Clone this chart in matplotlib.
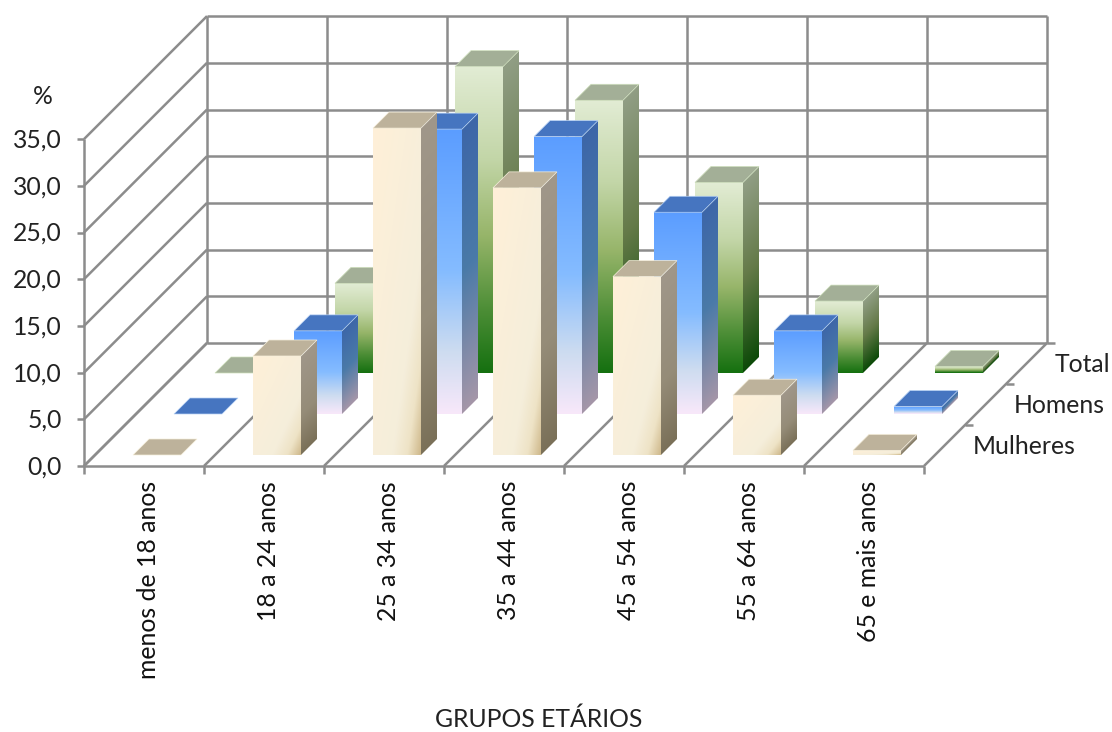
import matplotlib
matplotlib.use('Agg')
import matplotlib.pyplot as plt
import numpy as np
from matplotlib.colors import to_rgb
from matplotlib.patches import Polygon

plt.rcParams['font.family'] = ['Lato', 'DejaVu Sans']

# data
grupos = ['menos de 18 anos', '18 a 24 anos', '25 a 34 anos', '35 a 44 anos',
          '45 a 54 anos', '55 a 64 anos', '65 e mais anos']
series = ['Mulheres', 'Homens', 'Total']
mulheres = [0.0, 10.6, 35.0, 28.6, 19.1, 6.4, 0.5]
homens = [0.0, 8.9, 30.5, 29.7, 21.6, 8.9, 0.8]
total = [0.0, 9.6, 32.8, 29.2, 20.4, 7.7, 0.7]
valores = [mulheres, homens, total]
eixo_y = [0, 5, 10, 15, 20, 25, 30, 35]

# projection of the chart box to pixels
X0, Y0 = 84, 466
COL_W = 120
DEPTH = 123
PX_UNIT = 46.7 / 5
ROW = DEPTH / 3
BAR_W = 48 / COL_W
BAR_D = 16 / ROW
BAR_START = 11 / ROW
FS = 17.8


def proj(cat, val, row):
    d = row * ROW
    return X0 + cat * COL_W + d, Y0 - val * PX_UNIT - d


fig = plt.figure(figsize=(11.12, 7.32), dpi=100)
ax = fig.add_axes([0, 0, 1, 1])
ax.set_xlim(0, 1112)
ax.set_ylim(732, 0)
ax.axis('off')

GRID = '#8c8c8c'
n = len(grupos)


def line(p, q, z=1):
    ax.plot([p[0], q[0]], [p[1], q[1]], color=GRID, lw=1.8, zorder=z, solid_capstyle='butt')


top = eixo_y[-1]
for v in eixo_y:
    # left wall + back wall
    line(proj(0, v, 0), proj(0, v, 3))
    line(proj(0, v, 3), proj(n, v, 3))
    line((X0 - 7, proj(0, v, 0)[1]), proj(0, v, 0))
line(proj(0, 0, 0), proj(0, top, 0))
for c in range(n + 1):
    line(proj(c, 0, 3), proj(c, top, 3))
    line(proj(c, 0, 0), proj(c, 0, 3))
    line(proj(c, 0, 0), (proj(c, 0, 0)[0], Y0 + 8))
line(proj(0, 0, 0), proj(n, 0, 0))
for r in (1, 2, 3):
    p = proj(n, 0, r)
    line(p, (p[0] + 8, p[1]))

# colours of the faces
estilo = {
    'Mulheres': dict(top='#bdb29b', edge='#f6efdc',
                     front=[(0, '#fff0d8'), (0.7, '#f5eedb'), (0.86, '#eee3c6'), (1, '#cfb98c')],
                     side=[(0, '#a0978a'), (0.6, '#958c78'), (1, '#7a7058')], diagonal=True),
    'Homens': dict(top='#4675c0', edge='#b9d3f5',
                   front=[(0, '#5b9dff'), (0.5, '#85bcff'), (0.78, '#cddcf0'), (1, '#f8e8fa')],
                   side=[(0, '#3d66a8'), (0.5, '#4a7aa8'), (1, '#a596a8')], diagonal=False),
    'Total': dict(top='#a3af97', edge='#cfe0bd',
                  front=[(0, '#e2ecd4'), (0.3, '#c3d6a8'), (0.55, '#97b56a'), (0.8, '#4b8d35'), (1, '#157010')],
                  side=[(0, '#919e85'), (0.5, '#647a48'), (1, '#0c4a08')], diagonal=False),
}


def ramp(t, stops):
    pos = [s[0] for s in stops]
    rgb = np.array([to_rgb(s[1]) for s in stops])
    return np.dstack([np.interp(t, pos, rgb[:, i]) for i in range(3)])


def face(pts, t_func, stops, z):
    pts = np.array(pts)
    x0, y0 = pts.min(axis=0)
    x1, y1 = pts.max(axis=0)
    nx, ny = max(int(x1 - x0) + 2, 2), max(int(y1 - y0) + 2, 2)
    xx, yy = np.meshgrid(np.linspace(x0, x1, nx), np.linspace(y0, y1, ny))
    img = ramp(t_func(xx, yy), stops)
    im = ax.imshow(img, extent=(x0, x1, y1, y0), aspect='auto', zorder=z, interpolation='bilinear')
    im.set_clip_path(Polygon(pts, transform=ax.transData))


z = 5
for r in (2, 1, 0):
    st = estilo[series[r]]
    for c, v in enumerate(valores[r]):
        cat0 = c + 38 / COL_W
        cat1 = cat0 + BAR_W
        d0 = r + BAR_START
        d1 = d0 + BAR_D
        # front, side, top corners through the projection
        f = [proj(cat0, 0, d0), proj(cat1, 0, d0), proj(cat1, v, d0), proj(cat0, v, d0)]
        s = [proj(cat1, 0, d0), proj(cat1, 0, d1), proj(cat1, v, d1), proj(cat1, v, d0)]
        t = [proj(cat0, v, d0), proj(cat1, v, d0), proj(cat1, v, d1), proj(cat0, v, d1)]
        if v > 0:
            xa, xb = f[0][0], f[1][0]
            ya, yb = f[3][1], f[0][1]
            h = max(yb - ya, 1)
            if st['diagonal']:
                tf = lambda xx, yy, xa=xa, xb=xb, ya=ya, h=h: ((xx - xa) / (xb - xa) + (yy - ya) / h) / 2
            else:
                tf = lambda xx, yy, ya=ya, h=h: (yy - ya) / h
            face(f, tf, st['front'], z)
            sx = s[0][0]
            tf2 = lambda xx, yy, sx=sx, ya=ya, h=h: (yy + (xx - sx) - ya) / h
            face(s, tf2, st['side'], z)
        ax.add_patch(Polygon(t, closed=True, facecolor=st['top'], edgecolor=st['edge'], lw=0.5, zorder=z))
        z += 1

# text
for v in eixo_y:
    ax.text(62, proj(0, v, 0)[1] + 1, f'{v:.1f}'.replace('.', ','), ha='right', va='center',
            fontsize=FS, color='#222222', zorder=100)
ax.text(43, 97, '%', ha='center', va='center', fontsize=FS, color='#222222')
for c, g in enumerate(grupos):
    ax.text(X0 + (c + 0.5) * COL_W + 4, 481, g, rotation=90, ha='center', va='top',
            fontsize=FS, color='#111111')
for r, s in enumerate(series):
    p = proj(n, 0, r + 0.5)
    ax.text(p[0] + 28, p[1] + 1, s, ha='left', va='center', fontsize=FS, color='#222222')
ax.text(539, 719, 'GRUPOS ETÁRIOS', ha='center', va='center', fontsize=FS, color='#222222')

ax.set_xlim(0, 1112)
ax.set_ylim(732, 0)
fig.savefig('out.png', dpi=100, facecolor='white')
